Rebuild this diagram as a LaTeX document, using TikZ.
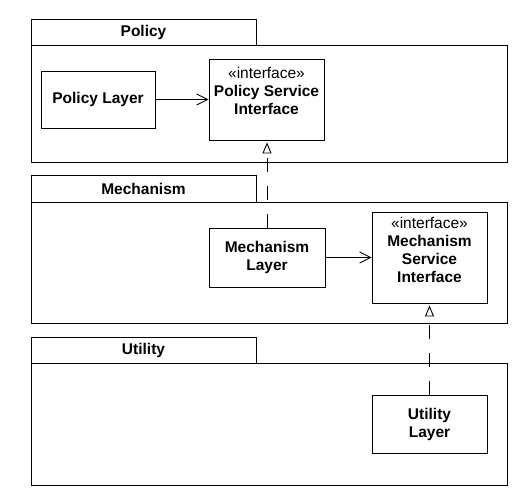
\documentclass[tikz,border=0pt]{standalone}
\usepackage{fontspec}
\setmainfont{Liberation Sans}
\usetikzlibrary{arrows.meta}
\begin{document}
\begin{tikzpicture}[x=1pt,y=-1pt,
  every node/.style={font=\fontsize{15.5}{18}\selectfont},
  frame/.style={draw=black,line width=0.9pt},
  box/.style={draw=black,line width=0.9pt,rectangle,inner sep=0pt},
  lbl/.style={inner sep=0pt,align=center,font=\fontsize{15.5}{18}\selectfont\bfseries},
  dep/.style={draw=black,line width=0.9pt,-{Straight Barb[length=11pt,width=11pt,line width=0.9pt]}},
  real/.style={draw=black,line width=0.9pt,dash pattern=on 14pt off 14pt,-{Triangle[open,length=11pt,width=9pt,line width=0.9pt]},shorten >=2pt}
]
\useasboundingbox (0,0) rectangle (524,494);
% packages
\draw[frame] (31,19) rectangle (256,45);
\draw[frame] (31,45) rectangle (507,162);
\node[lbl] (ptab) at (143.5,32) {Policy};
\draw[frame] (31,175) rectangle (256,202);
\draw[frame] (31,202) rectangle (507,323);
\node[lbl] (mtab) at (143.5,188.5) {Mechanism};
\draw[frame] (31,337) rectangle (256,363);
\draw[frame] (31,363) rectangle (507,485);
\node[lbl] (utab) at (143.5,350) {Utility};
% classes
\node[box,minimum width=114pt,minimum height=57pt] (pl) at (98,99.5) {};
\node[lbl] (plt) at (pl.center) {Policy Layer};
\node[box,minimum width=115pt,minimum height=81pt] (psi) at (266.5,99.5) {};
\node[lbl,anchor=north] (psit) at ([yshift=-9pt]psi.north) {{\mdseries«interface»}\\Policy Service\\Interface};
\node[box,minimum width=116pt,minimum height=59pt] (ml) at (267,257.5) {};
\node[lbl] (mlt) at (ml.center) {Mechanism\\Layer};
\node[box,minimum width=115pt,minimum height=91pt] (msi) at (429.5,257.5) {};
\node[lbl,anchor=north] (msit) at ([yshift=-5.5pt]msi.north) {{\mdseries«interface»}\\Mechanism\\Service\\Interface};
\node[box,minimum width=115pt,minimum height=58pt] (ul) at (429.5,424) {};
\node[lbl] (ult) at (ul.center) {Utility\\Layer};
% connectors
\draw[dep] (pl.east) -- (pl.east -| psi.west);
\draw[dep] (ml.east) -- (ml.east -| msi.west);
\draw[real] (ml.north) -- (ml.north |- psi.south);
\draw[real] (ul.north) -- (ul.north |- msi.south);
\end{tikzpicture}
\end{document}
